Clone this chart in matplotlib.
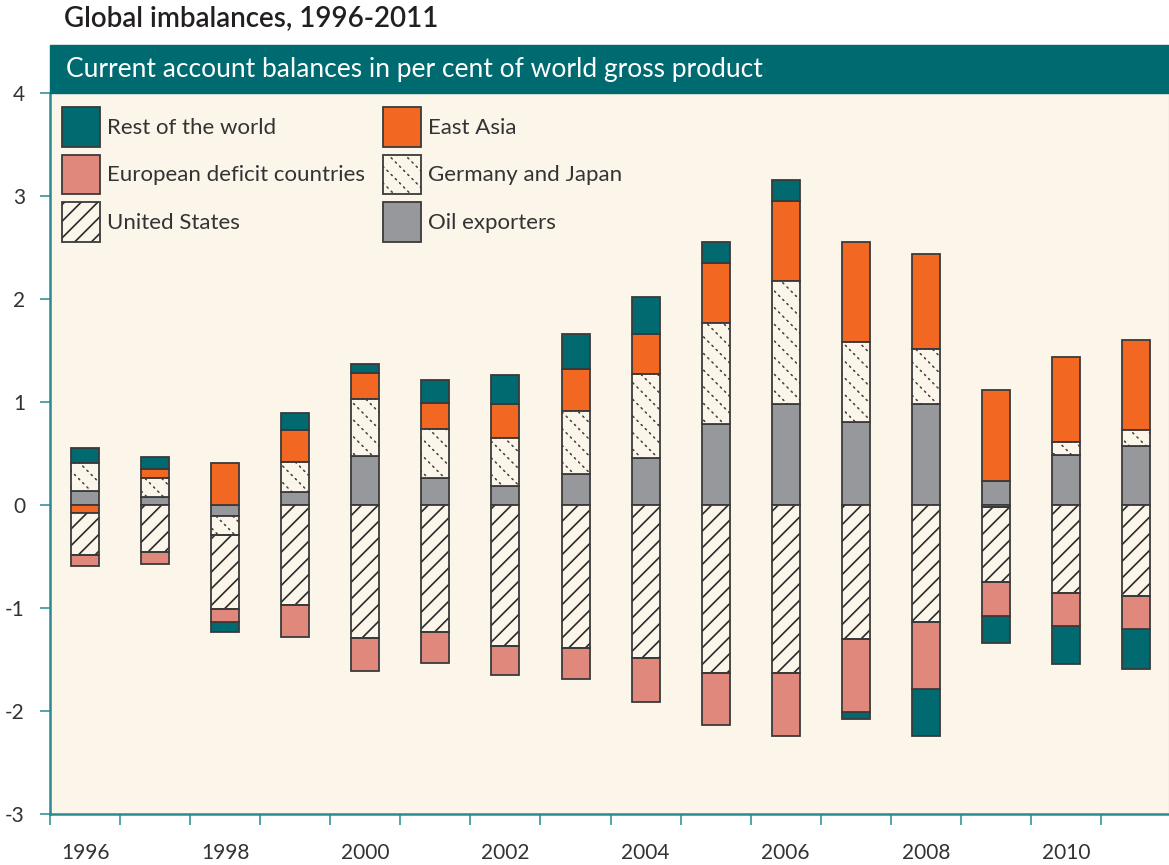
import numpy as np
import matplotlib
matplotlib.use('Agg')
import matplotlib.pyplot as plt
from matplotlib.patches import Patch, Rectangle

plt.rcParams['font.family'] = ['Lato', 'DejaVu Sans']
plt.rcParams['hatch.linewidth'] = 1.2

# data (per cent of world gross product)
years = np.arange(1996, 2012)
rest_of_world = [0.14, 0.12, -0.09, 0.16, 0.09, 0.22, 0.28, 0.34, 0.36, 0.20, 0.21, -0.07, -0.45, -0.26, -0.37, -0.39]
east_asia = [-0.08, 0.09, 0.41, 0.31, 0.25, 0.25, 0.33, 0.41, 0.39, 0.58, 0.78, 0.97, 0.93, 0.89, 0.83, 0.87]
euro_deficit = [-0.10, -0.11, -0.13, -0.31, -0.32, -0.30, -0.28, -0.30, -0.42, -0.51, -0.61, -0.71, -0.65, -0.33, -0.32, -0.32]
germany_japan = [0.27, 0.18, -0.18, 0.29, 0.55, 0.48, 0.47, 0.61, 0.81, 0.98, 1.19, 0.77, 0.53, -0.02, 0.12, 0.16]
united_states = [-0.41, -0.46, -0.72, -0.97, -1.29, -1.23, -1.37, -1.39, -1.49, -1.63, -1.63, -1.30, -1.14, -0.73, -0.85, -0.88]
oil_exporters = [0.14, 0.08, -0.11, 0.13, 0.48, 0.26, 0.18, 0.30, 0.46, 0.79, 0.98, 0.81, 0.98, 0.23, 0.49, 0.57]

labels = {'row': 'Rest of the world', 'ea': 'East Asia', 'euro': 'European deficit countries',
          'gj': 'Germany and Japan', 'us': 'United States', 'oil': 'Oil exporters'}

# colours
teal = '#006a70'
axis_teal = '#2a8a90'
cream = '#fcf5ea'
edge = '#3a3a3a'
fills = {'row': teal, 'ea': '#f26722', 'euro': '#e0887c', 'oil': '#97989c'}

series = {'oil': np.array(oil_exporters), 'gj': np.array(germany_japan), 'ea': np.array(east_asia),
          'row': np.array(rest_of_world), 'us': np.array(united_states), 'euro': np.array(euro_deficit)}

# stacking order away from zero
pos_order = ['oil', 'gj', 'ea', 'us', 'euro', 'row']
neg_order = ['oil', 'ea', 'gj', 'us', 'euro', 'row']
bottoms = {k: np.zeros(len(years)) for k in series}
for i in range(len(years)):
    up, down = 0.0, 0.0
    for k in pos_order:
        v = series[k][i]
        if v > 0:
            bottoms[k][i] = up
            up += v
    for k in neg_order:
        v = series[k][i]
        if v < 0:
            bottoms[k][i] = down
            down += v

W, H = 1169, 865
fig = plt.figure(figsize=(W / 100, H / 100), dpi=100)
fig.patch.set_facecolor('white')

def fx(x):
    return x / W

def fy(y):
    return 1 - y / H

ax = fig.add_axes([fx(50), fy(814), fx(1169) - fx(50), fy(93) - fy(814)])
ax.set_facecolor(cream)

US_HATCH = '//'
GJ_HATCH = '\\\\'
GJ_CUT = '||||----'

bw = 0.4
for k in ['oil', 'gj', 'ea', 'row', 'us', 'euro']:
    vals = series[k]
    m = vals != 0
    x, h, b = years[m], vals[m], bottoms[k][m]
    if k in fills:
        ax.bar(x, h, bottom=b, width=bw, color=fills[k], edgecolor=edge, linewidth=1.3, zorder=2)
    elif k == 'us':
        ax.bar(x, h, bottom=b, width=bw, color=cream, edgecolor='#2a2a2a', hatch=US_HATCH, linewidth=0, zorder=2)
        ax.bar(x, h, bottom=b, width=bw, fill=False, edgecolor=edge, linewidth=1.3, zorder=3)
    else:
        # dotted diagonal: dark lines broken up by cream cross lines
        ax.bar(x, h, bottom=b, width=bw, color=cream, edgecolor='#444444', hatch=GJ_HATCH, linewidth=0, zorder=2)
        ax.bar(x, h, bottom=b, width=bw, fill=False, edgecolor=cream, hatch=GJ_CUT, linewidth=0, zorder=2.5)
        ax.bar(x, h, bottom=b, width=bw, fill=False, edgecolor=edge, linewidth=1.3, zorder=3)

# legend
def handle(k):
    if k in fills:
        return Patch(facecolor=fills[k], edgecolor=edge, linewidth=1.3)
    if k == 'us':
        return (Patch(facecolor=cream, edgecolor='#2a2a2a', hatch=US_HATCH, linewidth=0),
                Patch(fill=False, edgecolor=edge, linewidth=1.3))
    return (Patch(facecolor=cream, edgecolor='#444444', hatch=GJ_HATCH, linewidth=0),
            Patch(fill=False, edgecolor=cream, hatch=GJ_CUT, linewidth=0),
            Patch(fill=False, edgecolor=edge, linewidth=1.3))

leg_keys = ['row', 'euro', 'us', 'ea', 'gj', 'oil']
ax.legend([handle(k) for k in leg_keys], [labels[k] for k in leg_keys], ncol=2,
          loc='upper left', bbox_to_anchor=((62 - 50) / 1119, (814 - 107) / 721),
          frameon=False, fontsize=16, handlelength=1.71, handleheight=2.39,
          handletextpad=0.32, labelspacing=0.34, columnspacing=0.8,
          borderpad=0, borderaxespad=0, labelcolor='#333333')

# axes
ax.set_xlim(1995.53, 2011.47)
ax.set_ylim(-3, 4)
ax.set_yticks(range(-3, 5))
ax.set_yticklabels([str(v) for v in range(-3, 5)])
ax.set_xticks(np.arange(1996, 2011, 2))
ax.set_xticklabels([str(y) for y in range(1996, 2011, 2)])
ax.set_xticks(np.arange(1995.5, 2011, 1), minor=True)
ax.tick_params(axis='y', length=7, width=1.1, color=axis_teal, pad=11, labelsize=15, labelcolor='#333333')
ax.tick_params(axis='x', which='major', length=0, pad=21, labelsize=15, labelcolor='#333333')
ax.tick_params(axis='x', which='minor', length=8, width=1.1, color=axis_teal)
for s in ['left', 'bottom']:
    ax.spines[s].set_color(axis_teal)
    ax.spines[s].set_linewidth(1.8)
ax.spines['top'].set_visible(False)
ax.spines['right'].set_color('#e6ddd0')
ax.spines['right'].set_linewidth(1)

# header band and titles
fig.patches.append(Rectangle((fx(50), fy(93)), fx(1169) - fx(50), fy(45) - fy(93),
                             transform=fig.transFigure, color='#006a71', zorder=0))
fig.text(fx(66), fy(69), 'Current account balances in per cent of world gross product',
         color='white', fontsize=19, va='center', ha='left')
fig.text(fx(64), fy(19), 'Global imbalances, 1996-2011', color='#231f20',
         fontsize=20, fontweight='semibold', va='center', ha='left')

fig.savefig('out.png', dpi=100)
